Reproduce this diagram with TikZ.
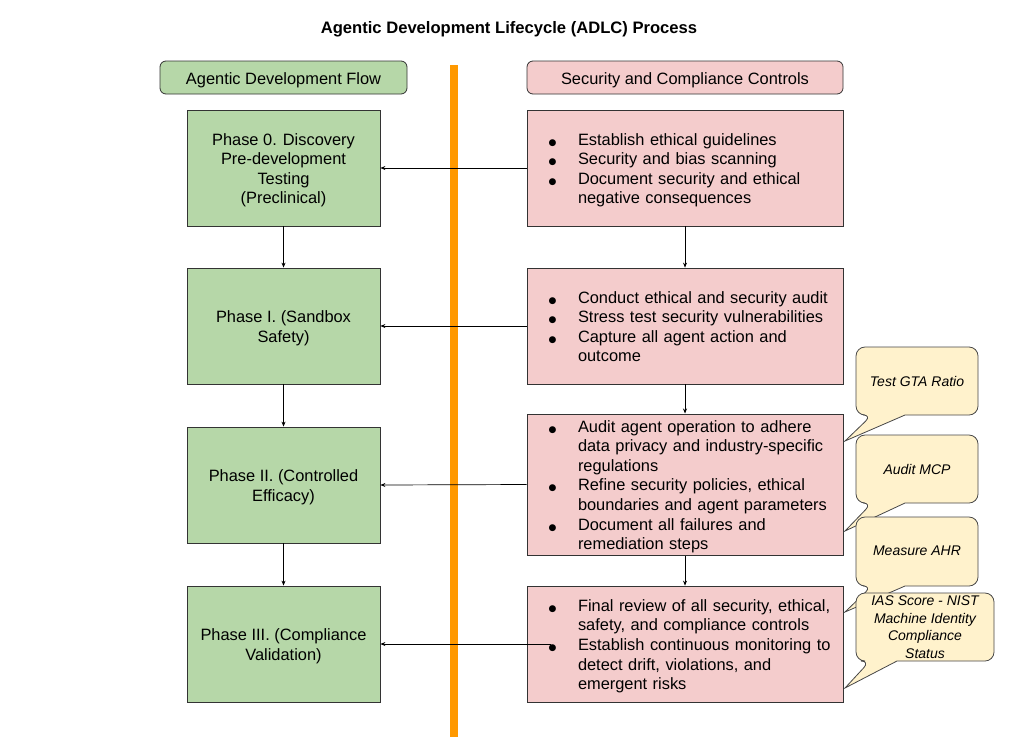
\documentclass[tikz,border=0pt]{standalone}
\usepackage{fontspec}
\setmainfont{Liberation Sans}
\newfontfamily\dejavu{DejaVu Sans}
\usetikzlibrary{arrows.meta}
\definecolor{gfill}{HTML}{B6D7A8}
\definecolor{pfill}{HTML}{F4CCCC}
\definecolor{yfill}{HTML}{FFF2CC}
\definecolor{orng}{HTML}{FF9900}
\definecolor{edge}{HTML}{333333}
\newcommand{\bl}{\hspace*{7.5pt}{\dejavu\fontsize{9}{0}\selectfont ●}}
\newcommand{\dn}[1]{\raisebox{-2.5pt}[\height][\depth]{#1}}
\begin{document}
\begin{tikzpicture}[x=1pt,y=-1pt,
  base/.style={font=\fontsize{16.4}{19.6}\selectfont, text=black},
  gbox/.style={base, draw=edge, line width=0.8pt, fill=gfill, minimum width=193pt, minimum height=116pt, align=center, inner sep=2pt},
  pbox/.style={base, draw=edge, line width=0.8pt, fill=pfill, minimum width=316pt, minimum height=116pt, text width=288pt, inner xsep=14pt, inner ysep=2pt, align=left},
  ghead/.style={base, draw=edge, line width=0.8pt, fill=gfill, rounded corners=6pt, minimum width=247pt, minimum height=33pt, inner sep=0pt},
  phead/.style={base, draw=edge, line width=0.8pt, fill=pfill, rounded corners=6pt, minimum width=316pt, minimum height=33pt, inner sep=0pt},
  callout/.style={draw=edge!90, line width=0.8pt, fill=yfill},
  ctext/.style={font=\fontsize{14}{17.5}\selectfont\itshape, align=center, inner sep=0pt},
  arr/.style={draw=black, line width=0.7pt, -{Stealth[length=5pt,width=4pt]}}
]
\useasboundingbox (0,0) rectangle (1024,737);
\fill[white] (0,0) rectangle (1024,737);

\node[font=\fontsize{16.6}{19}\selectfont\bfseries] (title) at (509,29) {Agentic Development Lifecycle (ADLC) Process};

\draw[orng, line width=8pt] (454,65) -- (454,737);

\node[ghead] (hl) at (283.5,77.5) {\dn{Agentic Development Flow}};
\node[phead] (hr) at (685,77.5) {\dn{Security and Compliance Controls}};

\node[gbox] (g0) at (283.5,168) {\dn{\begin{tabular}{@{}c@{}}Phase 0. Discovery\\Pre-development\\Testing\\(Preclinical)\end{tabular}}};
\node[gbox] (g1) at (283.5,326) {\dn{\begin{tabular}{@{}c@{}}Phase I. (Sandbox\\Safety)\end{tabular}}};
\node[gbox] (g2) at (283.5,485) {\dn{\begin{tabular}{@{}c@{}}Phase II. (Controlled\\Efficacy)\end{tabular}}};
\node[gbox] (g3) at (283.5,644) {\dn{\begin{tabular}{@{}c@{}}Phase III. (Compliance\\Validation)\end{tabular}}};

\node[pbox] (p0) at (685,168) {\dn{\begin{tabular}{@{}p{37pt}@{}l@{}}
\bl & Establish ethical guidelines\\
\bl & Security and bias scanning\\
\bl & Document security and ethical\\
    & negative consequences
\end{tabular}}};
\node[pbox] (p1) at (685,326) {\dn{\begin{tabular}{@{}p{37pt}@{}l@{}}
\bl & Conduct ethical and security audit\\
\bl & Stress test security vulnerabilities\\
\bl & Capture all agent action and\\
    & outcome
\end{tabular}}};
\node[pbox, minimum height=137pt] (p2) at (685,484.5) {\dn{\begin{tabular}{@{}p{37pt}@{}l@{}}
\bl & Audit agent operation to adhere\\
    & data privacy and industry-specific\\
    & regulations\\
\bl & Refine security policies, ethical\\
    & boundaries and agent parameters\\
\bl & Document all failures and\\
    & remediation steps
\end{tabular}}};
\node[pbox] (p3) at (685,644) {\dn{\begin{tabular}{@{}p{37pt}@{}l@{}}
\bl & Final review of all security, ethical,\\
    & safety, and compliance controls\\
\bl & Establish continuous monitoring to\\
    & detect drift, violations, and\\
    & emergent risks
\end{tabular}}};

% vertical flow arrows
\draw[arr] (g0.south) -- (g1.north);
\draw[arr] (g1.south) -- (g2.north);
\draw[arr] (g2.south) -- (g3.north);
\draw[arr] (p0.south) -- (p1.north);
\draw[arr] (p1.south) -- (p2.north);
\draw[arr] (p2.south) -- (p3.north);
% controls to phases
\draw[arr] (p0.west) -- (g0.east);
\draw[arr] (p1.west) -- (g1.east);
\draw[arr] (p2.west) -- (g2.east);
\coordinate (b3) at (551,644);
\draw[arr] (b3) -- (g3.east);

% callouts
\coordinate (t1) at (845,441);
\filldraw[callout] (872,415) -- (t1) -- (905,415) [rounded corners=9pt] -- (978,415) -- (978,347) -- (856,347) -- (856,415) -- cycle;
\node[ctext] (c1) at (917,381) {Test GTA Ratio};

\coordinate (t2) at (845,531);
\filldraw[callout] (872,503) -- (t2) -- (905,503) [rounded corners=9pt] -- (978,503) -- (978,435) -- (856,435) -- (856,503) -- cycle;
\node[ctext] (c2) at (917,469) {Audit MCP};

\coordinate (t3) at (845,612);
\filldraw[callout] (872,586) -- (t3) -- (905,586) [rounded corners=9pt] -- (978,586) -- (978,517) -- (856,517) -- (856,586) -- cycle;
\node[ctext] (c3) at (917,551) {Measure AHR};

\coordinate (t4) at (845,688);
\filldraw[callout] (870,661) -- (t4) -- (897,661) [rounded corners=9pt] -- (994,661) -- (994,593) -- (856,593) -- (856,661) -- cycle;
\node[ctext] (c4) at (925,627) {IAS Score - NIST\\Machine Identity\\Compliance\\Status};
\end{tikzpicture}
\end{document}
